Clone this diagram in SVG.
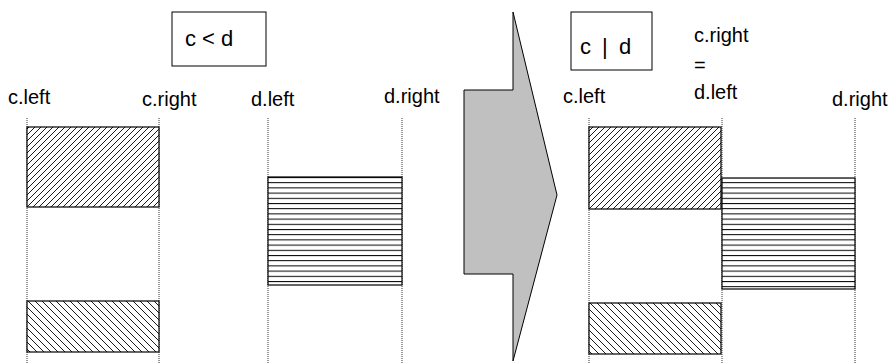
<svg xmlns="http://www.w3.org/2000/svg" width="891" height="363" viewBox="0 0 891 363">
<style>
text{font-family:"Liberation Sans",Arial,sans-serif;fill:#000}
.lbl{font-size:20px}
.box{font-size:22px}
.frame{fill:#fff;stroke:#000;stroke-width:1}
.guide{stroke:#000;stroke-width:0.8;stroke-dasharray:1 1;fill:none}
.hatch{stroke:#000;stroke-width:1.2}
.fw{fill:url(#fwd)}
.bk{fill:url(#back)}
.hz{fill:url(#horiz)}
</style>
<defs>
<pattern id="fwd" patternUnits="userSpaceOnUse" width="6" height="6">
<rect width="6" height="6" fill="#fff"/>
<path d="M0,6 L6,0 M-1,1 L1,-1 M5,7 L7,5" stroke="#000" stroke-width="0.9"/>
</pattern>
<pattern id="back" patternUnits="userSpaceOnUse" width="7" height="7">
<rect width="7" height="7" fill="#fff"/>
<path d="M0,0 L7,7 M-1,6 L1,8 M6,-1 L8,1" stroke="#000" stroke-width="0.9"/>
</pattern>
<pattern id="horiz" patternUnits="userSpaceOnUse" width="10" height="5.2" y="177">
<rect width="10" height="5.2" fill="#fff"/>
<path d="M0,0.5 L10,0.5" stroke="#000" stroke-width="1"/>
</pattern>
</defs>

<g id="guides">
<line class="guide" x1="27" y1="118" x2="27" y2="363"/>
<line class="guide" x1="159" y1="118" x2="159" y2="363"/>
<line class="guide" x1="268" y1="118" x2="268" y2="363"/>
<line class="guide" x1="402" y1="118" x2="402" y2="363"/>
<line class="guide" x1="589" y1="118" x2="589" y2="363"/>
<line class="guide" x1="722" y1="118" x2="722" y2="363"/>
<line class="guide" x1="855" y1="118" x2="855" y2="363"/>
</g>

<g id="cond-before">
<rect class="frame" x="172" y="12" width="94" height="54"/>
<text class="box" x="185" y="46">c &lt; d</text>
</g>
<g id="cond-after">
<rect class="frame" x="571" y="12" width="81" height="58"/>
<text class="box" x="580" y="54" word-spacing="5">c | d</text>
</g>

<g id="labels-left">
<text class="lbl" x="8" y="104">c.left</text>
<text class="lbl" x="142" y="106">c.right</text>
<text class="lbl" x="251" y="106">d.left</text>
<text class="lbl" x="384" y="103">d.right</text>
</g>
<g id="labels-right">
<text class="lbl" x="563" y="103">c.left</text>
<text class="lbl" x="694" y="42">c.right</text>
<text class="lbl" x="694" y="72">=</text>
<text class="lbl" x="694" y="99">d.left</text>
<text class="lbl" x="832" y="106">d.right</text>
</g>

<g id="c-left-before">
<rect class="fw" x="27" y="127" width="132" height="80" stroke="#000" stroke-width="1.2"/>
<rect class="bk" x="27" y="301" width="132" height="51" stroke="#000" stroke-width="1.2"/>
</g>
<g id="d-before">
<rect class="hz" x="268" y="177" width="134" height="108" stroke="#000" stroke-width="1.2"/>
</g>

<g id="arrow">
<polygon points="513,12 557,195 513,361 513,274 464,274 464,90 513,90" fill="#c0c0c0" stroke="#000" stroke-width="1"/>
</g>

<g id="c-after">
<rect class="fw" x="589" y="127" width="132" height="82" stroke="#000" stroke-width="1.2"/>
<rect class="bk" x="589" y="303" width="132" height="51" stroke="#000" stroke-width="1.2"/>
</g>
<g id="d-after">
<rect class="hz" x="722" y="178" width="133" height="111" stroke="#000" stroke-width="1.2"/>
</g>
</svg>
